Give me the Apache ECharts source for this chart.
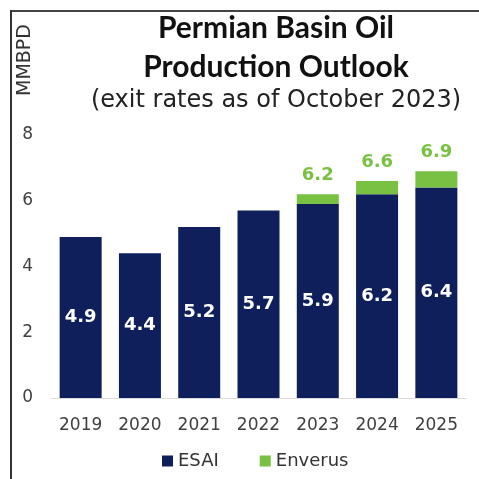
<!DOCTYPE html>
<html>
<head>
<meta charset="utf-8">
<script src="https://cdn.jsdelivr.net/npm/echarts@6/dist/echarts.min.js"></script>
<style>
  html, body { margin: 0; padding: 0; background: #fff; }
  #chart { width: 479px; height: 479px; }
</style>
</head>
<body>
<div id="chart"></div>
<script>
// years on the x axis
const years = ['2019', '2020', '2021', '2022', '2023', '2024', '2025'];
// ESAI outlook (MMBPD)
const esai = [4.9, 4.4, 5.2, 5.7, 5.9, 6.2, 6.4];
// Enverus outlook, total level (only 2023-2025)
const enverus = [null, null, null, null, 6.2, 6.6, 6.9];

const navy = '#0e1f5b';
const green = '#78c143';
const titleFont = 'Lato, "Noto Sans", sans-serif';
const font = '"DejaVu Sans", sans-serif';

// green part sits on top of the navy bar: Enverus minus ESAI
const enverusExtra = enverus.map((v, i) => (v == null ? null : +(v - esai[i]).toFixed(2)));

const chart = echarts.init(document.getElementById('chart'));

chart.setOption({
  animation: false,
  textStyle: { fontFamily: font },
  title: [
    {
      text: 'Permian Basin Oil\nProduction Outlook',
      left: 276,
      top: 9,
      padding: 0,
      textAlign: 'center',
      textStyle: { fontSize: 30, fontWeight: 'bold', color: '#111', lineHeight: 39, fontFamily: titleFont },
    },
    {
      text: '(exit rates as of October 2023)',
      left: 276,
      top: 87,
      padding: 0,
      textAlign: 'center',
      textStyle: { fontSize: 24, fontWeight: 'normal', color: '#222', lineHeight: 28, fontFamily: font },
    },
  ],
  graphic: {
    elements: [
      // frame lines top / left
      { type: 'rect', z: 100, shape: { x: 10, y: 10, width: 469, height: 2 }, style: { fill: '#444' } },
      { type: 'rect', z: 100, shape: { x: 10, y: 10, width: 2, height: 469 }, style: { fill: '#333' } },
      {
        type: 'text',
        x: 25,
        y: 60,
        rotation: Math.PI / 2,
        style: {
          text: 'MMBPD', fontSize: 19, fill: '#333', fontFamily: font,
          align: 'center', verticalAlign: 'middle',
        },
      },
    ],
  },
  legend: {
    left: 157,
    top: 447,
    itemWidth: 11,
    itemHeight: 11,
    itemGap: 41,
    icon: 'rect',
    textStyle: { fontSize: 18, color: '#333', fontFamily: font },
    data: ['ESAI', 'Enverus'],
  },
  grid: {
    left: 51,
    right: 13,
    top: 135,
    bottom: 81,
    containLabel: false,
    outerBoundsMode: 'none',
  },
  xAxis: {
    type: 'category',
    data: years,
    axisLine: { lineStyle: { color: '#d9d9d9', width: 1 } },
    axisTick: { show: false },
    axisLabel: { fontSize: 17, color: '#404040', margin: 19, fontFamily: font },
  },
  yAxis: {
    type: 'value',
    min: 0,
    max: 8,
    interval: 2,
    splitLine: { show: false },
    axisLine: { show: false },
    axisTick: { show: false },
    axisLabel: { fontSize: 17, color: '#404040', margin: 18, fontFamily: font },
  },
  series: [
    {
      name: 'ESAI',
      type: 'bar',
      stack: 'total',
      barWidth: 42,
      data: esai,
      itemStyle: { color: navy },
      label: {
        show: true,
        position: 'inside',
        color: '#fff',
        fontSize: 18,
        fontWeight: 'bold',
        fontFamily: font,
        formatter: p => p.value.toFixed(1),
      },
    },
    {
      name: 'Enverus',
      type: 'bar',
      stack: 'total',
      barWidth: 42,
      data: enverusExtra,
      itemStyle: { color: green },
      label: {
        show: true,
        position: 'top',
        distance: 10,
        color: green,
        fontSize: 18,
        fontWeight: 'bold',
        fontFamily: font,
        formatter: p => (enverus[p.dataIndex] == null ? '' : enverus[p.dataIndex].toFixed(1)),
      },
    },
  ],
});
</script>
</body>
</html>
